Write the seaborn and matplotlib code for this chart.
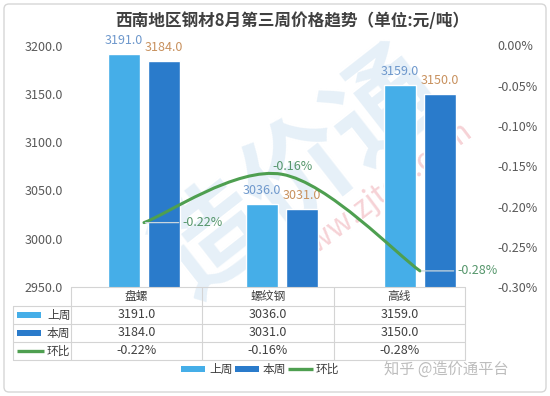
import numpy as np
import pandas as pd
import matplotlib
matplotlib.use('Agg')
import matplotlib.pyplot as plt
from matplotlib.path import Path
from matplotlib.patches import PathPatch, FancyBboxPatch, Rectangle
from matplotlib.lines import Line2D
import seaborn as sns

# ---------------- data ----------------
categories = ['盘螺', '螺纹钢', '高线']
last_week = [3191.0, 3036.0, 3159.0]
this_week = [3184.0, 3031.0, 3150.0]
change_pct = [-0.22, -0.16, -0.28]
series_names = ['上周', '本周', '环比']
left_ticks = [2950, 3000, 3050, 3100, 3150, 3200]
right_ticks = [0.00, -0.05, -0.10, -0.15, -0.20, -0.25, -0.30]
title = '西南地区钢材8月第三周价格趋势（单位:元/吨）'
source_note = '知乎 @造价通平台'

# ---------------- style ----------------
sns.set_theme(style='white')
plt.rcParams['font.family'] = ['Noto Sans CJK SC', 'DejaVu Sans']
plt.rcParams['axes.unicode_minus'] = False

c_last = '#45AEE8'
c_this = '#2A7BCB'
c_line = '#4E9F50'
c_tick = '#595959'
c_grid = '#D4D4D4'

W, H = 550, 396
fig = plt.figure(figsize=(5.5, 3.96), dpi=100)
fig.patch.set_facecolor('white')


def fx(px):
    return px / W


def fy(py):
    return 1 - py / H


# background: frame + watermarks
bg = fig.add_axes([0, 0, 1, 1], zorder=0)
bg.set_xlim(0, W)
bg.set_ylim(H, 0)
bg.axis('off')
bg.add_patch(FancyBboxPatch((4, 4), 542, 388,
                            boxstyle='round,pad=0,rounding_size=5',
                            fill=False, ec='#D6D6D6', lw=1))
bg.text(300, 175, '造价通', fontsize=78, fontweight='bold', color='#E6F0F8',
        rotation=38, ha='center', va='center')
bg.text(380, 195, 'www.zjtcn.com', fontsize=22, color='#F6D2D6',
        rotation=37, ha='center', va='center')

# ---------------- main axes ----------------
ax_left, ax_right, ax_top, ax_bot = 75, 489, 45.5, 287
ax = fig.add_axes([fx(ax_left), fy(ax_bot), (ax_right - ax_left) / W,
                   (ax_bot - ax_top) / H], zorder=2)
ax.patch.set_visible(False)

df = pd.DataFrame({
    '品种': categories * 2,
    '价格': last_week + this_week,
    '周': [series_names[0]] * len(categories) + [series_names[1]] * len(categories),
})
sns.barplot(data=df, x='品种', y='价格', hue='周', order=categories,
            hue_order=series_names[:2], palette=[c_last, c_this],
            width=0.58, gap=0.2, saturation=1, legend=False, ax=ax)
ax.set_ylim(left_ticks[0], left_ticks[-1])
ax.set_xlim(-0.5, len(categories) - 0.5)
ax.set_yticks(left_ticks)
ax.set_yticklabels([f'{t:.1f}' for t in left_ticks])
ax.set_xticks([])
ax.set_xlabel('')
ax.set_ylabel('')
ax.tick_params(axis='y', length=0, pad=8.5, labelsize=9, labelcolor=c_tick)
for s in ax.spines.values():
    s.set_visible(False)

label_colors = ['#6E98CC', '#C8915E']
for cont, col in zip(ax.containers, label_colors):
    ax.bar_label(cont, fmt='%.1f', padding=5, color=col, fontsize=9)

# ---------------- secondary axis: smooth line ----------------
ax2 = ax.twinx()
ax2.patch.set_visible(False)
ax2.set_ylim(right_ticks[-1], right_ticks[0])
ax2.set_yticks(right_ticks)
ax2.set_yticklabels([f'{abs(t):.2f}%' if t == 0 else f'-{abs(t):.2f}%' for t in right_ticks])
ax2.tick_params(axis='y', length=0, pad=6, labelsize=9, labelcolor=c_tick)
for s in ax2.spines.values():
    s.set_visible(False)

pts = np.column_stack([np.arange(len(categories), dtype=float), change_pct])
n = len(pts)
verts = [pts[0]]
codes = [Path.MOVETO]
for i in range(n - 1):
    p0 = pts[max(i - 1, 0)]
    p1 = pts[i]
    p2 = pts[i + 1]
    p3 = pts[min(i + 2, n - 1)]
    verts += [p1 + (p2 - p0) / 6, p2 - (p3 - p1) / 6, p2]
    codes += [Path.CURVE4] * 3
ax2.add_patch(PathPatch(Path(verts, codes), fill=False, ec=c_line, lw=2.2,
                        capstyle='round', joinstyle='round'))

pct_layout = [((38, 0), 'left', True), ((11, 8), 'center', False), ((37, 0), 'left', True)]
for i, (v, (off, ha, leader)) in enumerate(zip(change_pct, pct_layout)):
    ap = dict(arrowstyle='-', color='#C9D6DE', lw=0.9, shrinkA=0, shrinkB=1) if leader else None
    ax2.annotate(f'{v:.2f}%', xy=(i, v), xytext=off, textcoords='offset pixels',
                 ha=ha, va='center', fontsize=9, color='#55966B', arrowprops=ap,
                 annotation_clip=False)

# ---------------- data table ----------------
tab = fig.add_axes([0, 0, 1, 1], zorder=3)
tab.set_xlim(0, W)
tab.set_ylim(H, 0)
tab.axis('off')
tab.patch.set_visible(False)

col_x = [71, 202, 334, 465]
row_y = [287, 306, 324, 342, 360]
x_leg = 13
lw_t = 0.8
tab.plot([col_x[0], col_x[-1]], [row_y[0], row_y[0]], color=c_grid, lw=lw_t)
for y in row_y[1:]:
    tab.plot([x_leg, col_x[-1]], [y, y], color=c_grid, lw=lw_t)
tab.plot([x_leg, x_leg], [row_y[1], row_y[-1]], color=c_grid, lw=lw_t)
for x in col_x:
    tab.plot([x, x], [row_y[0], row_y[-1]], color=c_grid, lw=lw_t)

c_text = '#404040'
for j, cat in enumerate(categories):
    cx = (col_x[j] + col_x[j + 1]) / 2
    tab.text(cx, (row_y[0] + row_y[1]) / 2, cat, ha='center', va='center',
             fontsize=8.5, color=c_text)
rows = [[f'{v:.1f}' for v in last_week], [f'{v:.1f}' for v in this_week],
        [f'{v:.2f}%' for v in change_pct]]
for r, vals in enumerate(rows):
    cy = (row_y[r + 1] + row_y[r + 2]) / 2
    for j, txt in enumerate(vals):
        cx = (col_x[j] + col_x[j + 1]) / 2
        tab.text(cx, cy, txt, ha='center', va='center', fontsize=9, color=c_text)
    # legend keys inside the table
    if r < 2:
        tab.add_patch(Rectangle((17, cy - 3), 24, 6, color=[c_last, c_this][r], lw=0))
    else:
        tab.plot([17, 44], [cy, cy], color=c_line, lw=2.4, solid_capstyle='butt')
    tab.text(47, cy, series_names[r], ha='left', va='center', fontsize=8.5, color=c_text)

# ---------------- bottom legend ----------------
ly = 369
tab.add_patch(Rectangle((181, ly - 3), 24, 6, color=c_last, lw=0))
tab.text(209, ly, series_names[0], ha='left', va='center', fontsize=8.5, color=c_text)
tab.add_patch(Rectangle((235, ly - 3), 24, 6, color=c_this, lw=0))
tab.text(263, ly, series_names[1], ha='left', va='center', fontsize=8.5, color=c_text)
tab.plot([288, 313], [ly, ly], color=c_line, lw=2.4, solid_capstyle='butt')
tab.text(316, ly, series_names[2], ha='left', va='center', fontsize=8.5, color=c_text)

tab.text(446, ly, source_note, ha='center', va='center', fontsize=11, color='#BDBDBD')

# ---------------- title ----------------
fig.text(fx(292), fy(21), title, ha='center', va='center', fontsize=12,
         fontweight='bold', color='#404040')

fig.savefig('out.png', dpi=100)
